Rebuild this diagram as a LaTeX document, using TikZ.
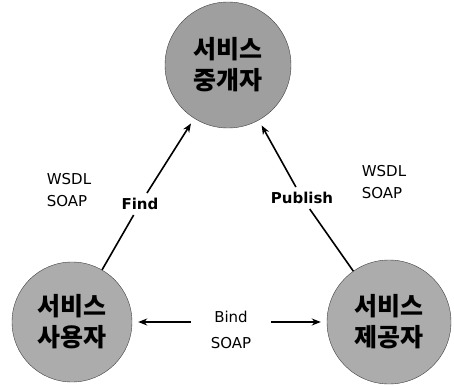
\documentclass[tikz,border=0pt]{standalone}
\usepackage{fontspec}
\setmainfont{DejaVu Sans}
\newfontfamily\kr{Noto Sans CJK KR}
\usetikzlibrary{arrows.meta}

\begin{document}
\begin{tikzpicture}
        [x=1pt,y=-1pt,%%%%%%%%%%%%%%%%%%%%%%%%%%%%%%
        hub/.style={circle,draw=black!75,fill=gray!65,inner sep=0pt,align=center,
                    font=\kr\bfseries\fontsize{25}{31}\selectfont},
        tag/.style={inner sep=5pt,font=\fontsize{15}{22}\selectfont},
        link/.style={line width=1.6pt},
        tip/.style={link,-{Stealth[length=9pt,width=7pt]},shorten >=6pt},
        ]%%%%%%%%%%%%%%%%%%%%%%%%%%%%%%
        \useasboundingbox (0,0) rectangle (454,385);

        % the three roles
        \node[hub,fill=gray!75,minimum size=126pt] (broker) at (228,65) {서비스\\중개자};
        \node[hub,minimum size=120pt] (consumer) at (72,322) {서비스\\사용자};
        \node[hub,minimum size=124pt] (provider) at (389,322) {서비스\\제공자};

        % labels on the links
        \node[tag,font=\bfseries\fontsize{15}{22}\selectfont] (find) at (140,204) {Find};
        \node[tag,font=\bfseries\fontsize{15}{22}\selectfont] (publish) at (302,198) {Publish};
        \node[tag,inner xsep=20pt,align=center] (bind) at (231,330) {Bind\\[4pt]SOAP};

        \node[tag,align=left] (wsdlleft) at (69,190) {WSDL\\SOAP};
        \node[tag,align=left] (wsdlright) at (384,182) {WSDL\\SOAP};

        % links
        \draw[link] (consumer) -- (find);
        \draw[tip] (find) -- (broker);
        \draw[link] (provider) -- (publish);
        \draw[tip] (publish) -- (broker);
        \draw[tip] (bind.west |- consumer.east) -- (consumer.east);
        \draw[tip] (bind.east |- provider.west) -- (provider.west);
      \end{tikzpicture}
\end{document}
